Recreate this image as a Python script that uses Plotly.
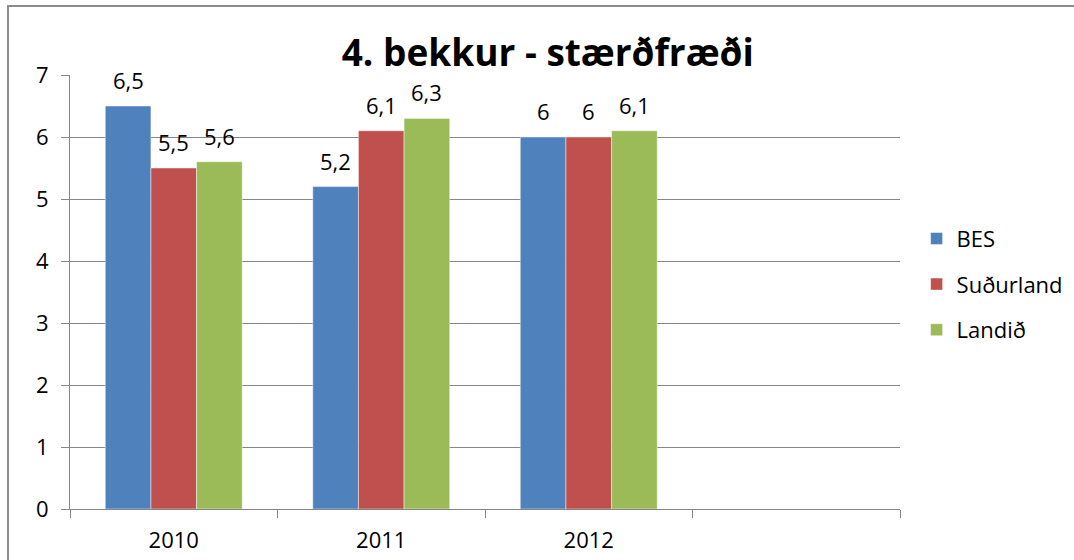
import plotly.graph_objects as go

categories = ["2010", "2011", "2012"]
series_names = ["BES", "Suðurland", "Landið"]
bes = [6.5, 5.2, 6.0]
sudurland = [5.5, 6.1, 6.0]
landid = [5.6, 6.3, 6.1]
colors = ["#4F81BD", "#C0504D", "#9BBB59"]
y_ticks = [0, 1, 2, 3, 4, 5, 6, 7]

FONT = "'Open Sans', sans-serif"
GRID = "#868686"
BARGAP = 0.34

def lab(v):
    return f"{v:g}".replace(".", ",")

xs = list(range(len(categories)))
all_series = [bes, sudurland, landid]
n = len(all_series)
fig = go.Figure()
for i, (name, vals) in enumerate(zip(series_names, all_series)):
    fig.add_trace(go.Bar(
        x=xs, y=vals, name=name,
        marker=dict(color=colors[i], line=dict(color="rgba(255,255,255,0.45)", width=1)),
        legendgroup=name,
    ))

# data labels above each bar (positioned through the axis scales)
slot = (1 - BARGAP) / n
for i, vals in enumerate(all_series):
    off = (i - (n - 1) / 2) * slot
    for xi, v in zip(xs, vals):
        fig.add_annotation(x=xi + off, y=v, xref="x", yref="y", text=lab(v),
                           showarrow=False, yanchor="bottom", yshift=9,
                           font=dict(family=FONT, size=22, color="#000"))

fig.update_layout(
    width=1074, height=560,
    margin=dict(l=70, r=174, t=75, b=51, autoexpand=False),
    paper_bgcolor="white", plot_bgcolor="white",
    barmode="group", bargap=BARGAP, bargroupgap=0,
    font=dict(family=FONT, size=22, color="#000"),
    title=dict(text="<b>4. bekkur - stærðfræði</b>", x=0.51, xref="container",
               y=1 - 53 / 560, yref="container", yanchor="middle", xanchor="center",
               font=dict(family=FONT, size=37, color="#000")),
    legend=dict(x=1.02, xanchor="left", y=0.518, yanchor="middle",
                font=dict(family=FONT, size=22), tracegroupgap=14,
                itemwidth=30, bgcolor="rgba(0,0,0,0)"),
)
fig.update_xaxes(
    range=[-0.5, 3.5], tickvals=xs, ticktext=categories, ticks="",
    showgrid=False, zeroline=False, showline=True, linecolor=GRID, linewidth=1,
    tickfont=dict(family=FONT, size=22), ticklabelstandoff=12,
    minor=dict(tickvals=[-0.5, 0.5, 1.5, 2.5, 3.5], ticks="outside", ticklen=8,
               tickcolor=GRID, tickwidth=1, showgrid=False),
)
fig.update_yaxes(
    range=[0, 7], tickvals=y_ticks, ticks="outside", ticklen=8, tickcolor=GRID,
    showgrid=True, gridcolor=GRID, gridwidth=1, zeroline=False,
    showline=True, linecolor=GRID, linewidth=1,
    tickfont=dict(family=FONT, size=22), ticklabelstandoff=8,
)
# outer chart border (extends beyond the visible canvas on right and bottom)
fig.add_shape(type="rect", xref="paper", yref="paper",
              x0=(8 - 70) / 830, x1=(1090 - 70) / 830,
              y0=(509 - 580) / 434, y1=(509 - 6) / 434,
              line=dict(color="#8C8C8C", width=2), fillcolor="rgba(0,0,0,0)", layer="below")

fig.write_html("out.html", config={"displayModeBar": False},
               post_script="document.body.style.margin='0';")
